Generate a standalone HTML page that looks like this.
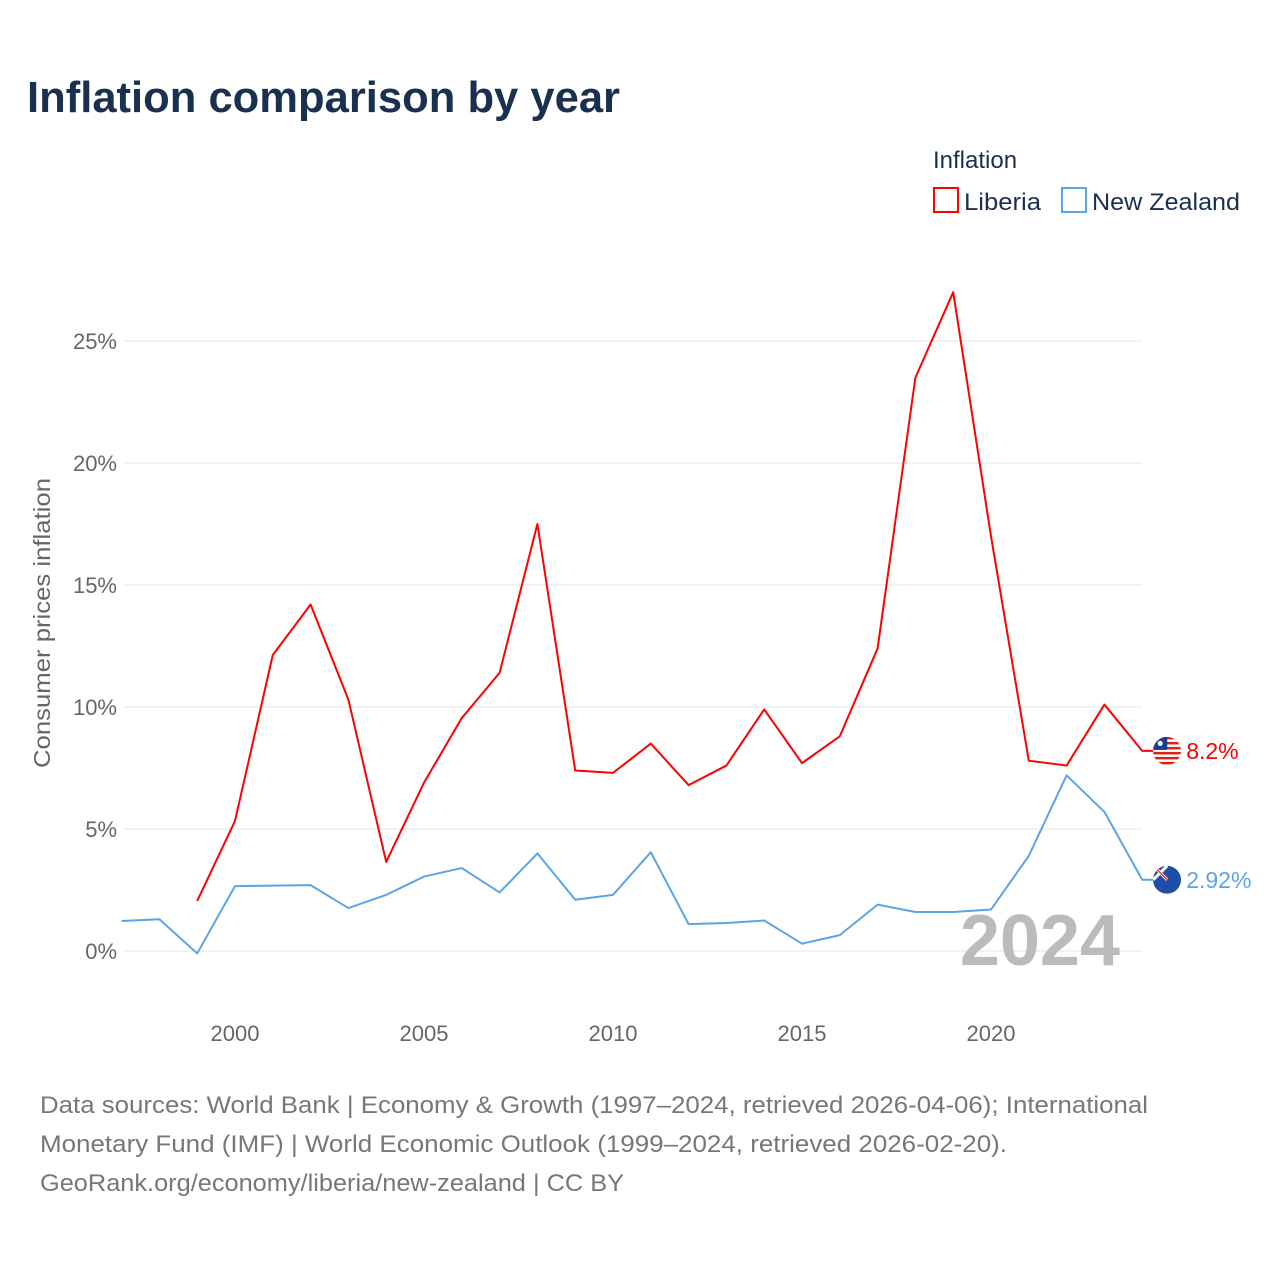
<!DOCTYPE html>
<html><head><meta charset="utf-8"><style>
body{margin:0;background:#fff;font-family:"Liberation Sans",sans-serif;}
svg text{font-family:"Liberation Sans",sans-serif;}
</style></head><body>
<svg width="1280" height="1280" xmlns="http://www.w3.org/2000/svg">
<defs>
<clipPath id="clipLib"><circle cx="1167" cy="751" r="14"/></clipPath>
<clipPath id="clipNz"><circle cx="1167" cy="880" r="14"/></clipPath>
</defs>
<rect width="1280" height="1280" fill="#fff"/>
<text x="27" y="112" font-size="44" font-weight="bold" fill="#1a3050" textLength="593" lengthAdjust="spacingAndGlyphs">Inflation comparison by year</text>
<text x="933" y="168" font-size="24" fill="#1a3050">Inflation</text>
<g><rect x="934" y="188" width="24" height="24" fill="none" stroke="#ff0000" stroke-width="2"/><text x="964" y="210" font-size="24" fill="#1a3050" textLength="77" lengthAdjust="spacingAndGlyphs">Liberia</text></g>
<g><rect x="1062" y="188" width="24" height="24" fill="none" stroke="#5aa5e8" stroke-width="2"/><text x="1092" y="210" font-size="24" fill="#1a3050" textLength="148" lengthAdjust="spacingAndGlyphs">New Zealand</text></g>
<g id="grid"></g><g id="yticks"></g><g id="xticks"></g>
<text transform="translate(50,623) rotate(-90)" text-anchor="middle" font-size="23" fill="#666" textLength="290" lengthAdjust="spacingAndGlyphs">Consumer prices inflation</text>
<text x="1120" y="965" text-anchor="end" font-size="72" font-weight="bold" fill="#bbb">2024</text>
<g id="series"></g>
<g font-size="24" fill="#777">
<text x="40" y="1113" textLength="1108" lengthAdjust="spacingAndGlyphs">Data sources: World Bank | Economy &amp; Growth (1997–2024, retrieved 2026-04-06); International</text>
<text x="40" y="1152" textLength="967" lengthAdjust="spacingAndGlyphs">Monetary Fund (IMF) | World Economic Outlook (1999–2024, retrieved 2026-02-20).</text>
<text x="40" y="1191" textLength="584" lengthAdjust="spacingAndGlyphs">GeoRank.org/economy/liberia/new-zealand | CC BY</text>
</g>
</svg>
<script>
const yTicks=[0,5,10,15,20,25];
const xTicks=[2000,2005,2010,2015,2020];
const liberiaYears=[1999,2000,2001,2002,2003,2004,2005,2006,2007,2008,2009,2010,2011,2012,2013,2014,2015,2016,2017,2018,2019,2020,2021,2022,2023,2024];
const liberiaValues=[2.05,5.33,12.13,14.2,10.3,3.65,6.9,9.55,11.4,17.5,7.4,7.3,8.5,6.8,7.6,9.9,7.7,8.8,12.4,23.5,27.0,17.0,7.8,7.6,10.1,8.2];
const nzYears=[1997,1998,1999,2000,2001,2002,2003,2004,2005,2006,2007,2008,2009,2010,2011,2012,2013,2014,2015,2016,2017,2018,2019,2020,2021,2022,2023,2024];
const nzValues=[1.23,1.3,-0.1,2.66,2.68,2.7,1.76,2.3,3.05,3.4,2.4,4.0,2.1,2.3,4.05,1.1,1.15,1.25,0.3,0.65,1.9,1.6,1.6,1.7,3.9,7.2,5.7,2.92];
const NS="http://www.w3.org/2000/svg";
const xs=y=>235+(y-2000)*37.8;
const ys=v=>951-v*24.4;
function mk(tag,attrs,parent){const e=document.createElementNS(NS,tag);for(const k in attrs)e.setAttribute(k,attrs[k]);(typeof parent==='string'?document.getElementById(parent):parent).appendChild(e);return e;}
yTicks.forEach(t=>{
 const l=mk('line',{x1:125,x2:1142,y1:ys(t),y2:ys(t),stroke:'#e6e6e6','stroke-width':1},'grid');
 
 
 const tx=mk('text',{x:117,y:ys(t)+8,'text-anchor':'end','font-size':22,fill:'#666'},'yticks');
 tx.textContent=t+'%';
 
 
});
xTicks.forEach(t=>{
 const tx=mk('text',{x:xs(t),y:1041,'text-anchor':'middle','font-size':22,fill:'#666'},'xticks');
 tx.textContent=t;
 
 
});
function series(years,vals,color,name,label){
 const pts=years.map((y,i)=>xs(y)+','+ys(vals[i])).join(' ');
 const last=vals[vals.length-1];
 const cx=xs(2024)+25, cy=ys(last);
 const p=mk('polyline',{points:pts+' '+(cx-12)+','+cy,fill:'none',stroke:color,'stroke-width':2,'stroke-linejoin':'round'},'series');
 
 
 const g=mk('g',{transform:`translate(0,${cy-(name==='liberia'?751:880)})`},'series');
 
 
 const inner=mk('g',{'clip-path':name==='liberia'?'url(#clipLib)':'url(#clipNz)'},g);
 const fy=name==='liberia'?751:880;
 if(name==='liberia'){
  mk('rect',{x:cx-14,y:fy-14,width:28,height:28,fill:'#fff'},inner);
  for(let k=0;k<6;k++){mk('rect',{x:cx-14,y:fy-14+k*5,width:28,height:2.5,fill:'#d21'},inner);}
  mk('rect',{x:cx-14,y:fy-14,width:14,height:13,fill:'#1f3a93'},inner);
  mk('circle',{cx:cx-7,cy:fy-7.5,r:2.5,fill:'#fff'},inner);
 } else {
  mk('rect',{x:cx-14,y:fy-14,width:28,height:28,fill:'#1f4ea8'},inner);
  mk('path',{d:`M${cx-14} ${fy-14} L${cx} ${fy} M${cx} ${fy-14} L${cx-14} ${fy}`,stroke:'#fff','stroke-width':3},inner);
  mk('path',{d:`M${cx-14} ${fy-14} L${cx} ${fy}`,stroke:'#e33','stroke-width':1.5},inner);
 }
 const t=mk('text',{x:cx+19,y:cy+8,'font-size':23,fill:color},'series');
 t.textContent=label;
 
 
}
series(liberiaYears,liberiaValues,'#ff0000','liberia',liberiaValues[liberiaValues.length-1]+'%');
series(nzYears,nzValues,'#5aa5e8','new-zealand',nzValues[nzValues.length-1]+'%');
</script>
</body></html>
